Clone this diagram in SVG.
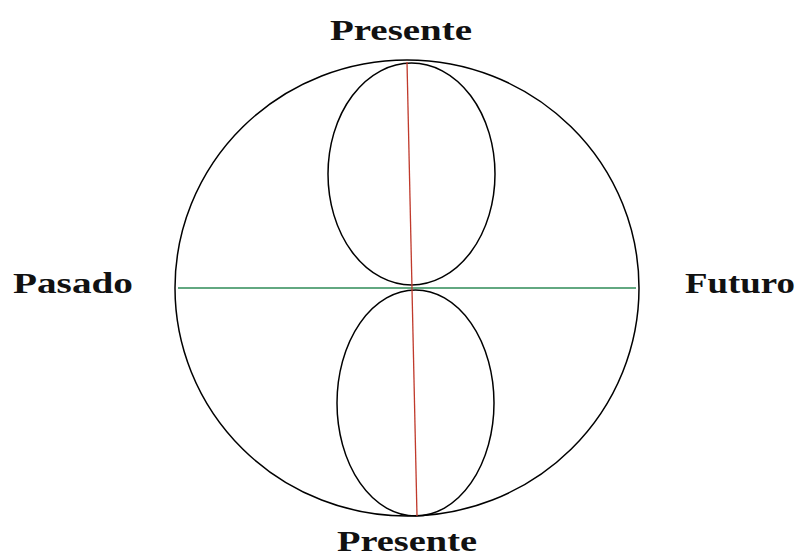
<svg xmlns="http://www.w3.org/2000/svg" width="801" height="558" viewBox="0 0 801 558">
<style>
.o{fill:none;stroke:#000;stroke-width:1.5}
.t{font-family:"Liberation Serif",serif;font-weight:bold;font-size:30px;fill:#111}
</style>
<rect width="801" height="558" fill="#fff"/>
<g id="circle"><ellipse class="o" cx="407" cy="288" rx="232" ry="228"/></g>
<g id="upper"><ellipse class="o" cx="411.5" cy="174" rx="83.5" ry="111"/></g>
<g id="lower"><ellipse class="o" cx="415.5" cy="403" rx="78.5" ry="113"/></g>
<g id="connectors">
<line x1="178" y1="288" x2="636" y2="288" stroke="#2e8b57" stroke-width="1.3"/>
<line x1="407" y1="62" x2="417" y2="516" stroke="#c0392b" stroke-width="1.3"/>
</g>
<g id="labels">
<text class="t" x="330" y="40" textLength="142" lengthAdjust="spacingAndGlyphs">Presente</text>
<text class="t" x="337" y="551" textLength="140" lengthAdjust="spacingAndGlyphs">Presente</text>
<text class="t" x="13" y="293" textLength="120" lengthAdjust="spacingAndGlyphs">Pasado</text>
<text class="t" x="685" y="293" textLength="110" lengthAdjust="spacingAndGlyphs">Futuro</text>
</g>
</svg>
